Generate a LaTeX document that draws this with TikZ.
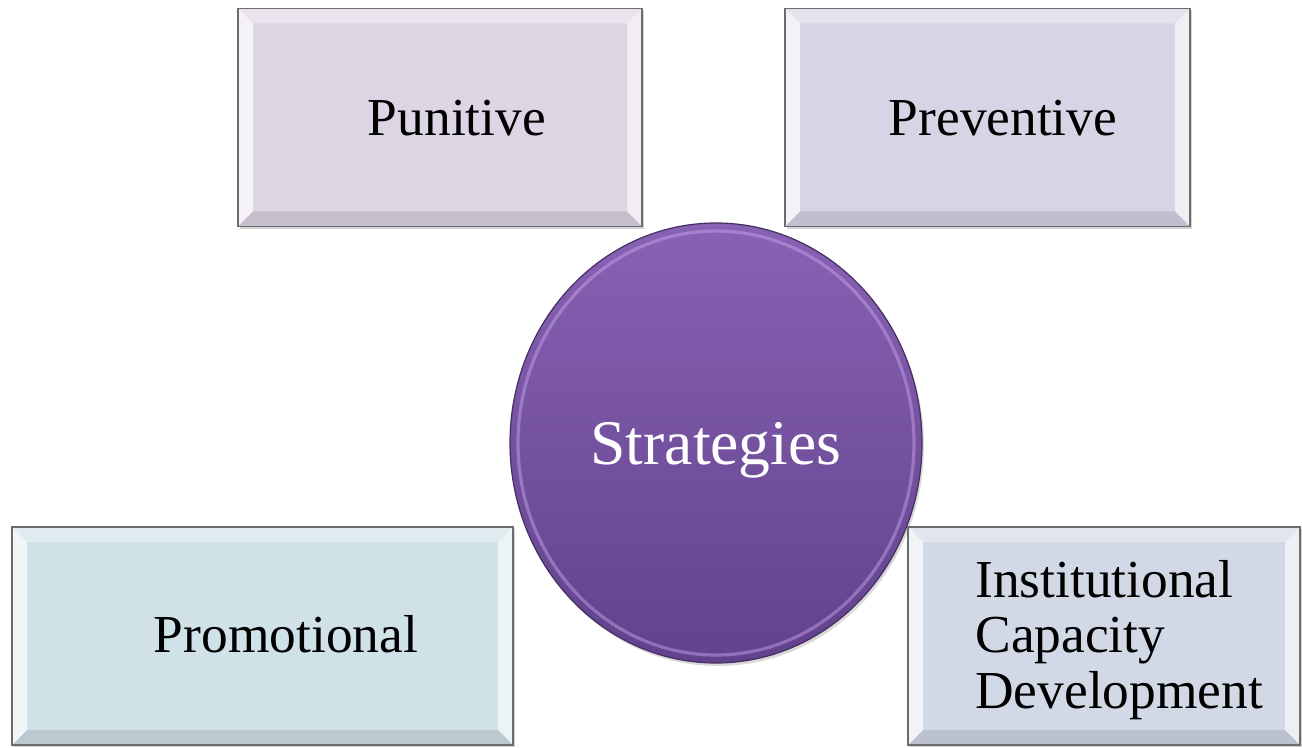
\documentclass[tikz,border=0pt]{standalone}
\usepackage{fontspec}
\setmainfont{Liberation Serif}
\usetikzlibrary{shapes.geometric}
\usetikzlibrary{shadows}

\definecolor{punitivefill}{HTML}{DCD5E3}
\definecolor{preventivefill}{HTML}{D6D5E6}
\definecolor{promotionalfill}{HTML}{D0E1E8}
\definecolor{capacityfill}{HTML}{D1D8E6}
\definecolor{hubtop}{HTML}{8862B4}
\definecolor{hubbottom}{HTML}{62428C}
\definecolor{hubring}{HTML}{C9A8F0}

\tikzset{
  bevel/.style={path picture={
    \coordinate (nw) at (path picture bounding box.north west);
    \coordinate (ne) at (path picture bounding box.north east);
    \coordinate (sw) at (path picture bounding box.south west);
    \coordinate (se) at (path picture bounding box.south east);
    \fill[white,opacity=.35] (nw) -- (ne) -- ([shift={(-7.5pt,-7.5pt)}]ne) -- ([shift={(7.5pt,-7.5pt)}]nw) -- cycle;
    \fill[white,opacity=.7] (nw) -- ([shift={(7.5pt,-7.5pt)}]nw) -- ([shift={(7.5pt,7.5pt)}]sw) -- (sw) -- cycle;
    \fill[white,opacity=.6] (ne) -- ([shift={(-7.5pt,-7.5pt)}]ne) -- ([shift={(-7.5pt,7.5pt)}]se) -- (se) -- cycle;
    \fill[black,opacity=.1] (sw) -- ([shift={(7.5pt,7.5pt)}]sw) -- ([shift={(-7.5pt,7.5pt)}]se) -- (se) -- cycle;
  }},
  stratbox/.style={rectangle, draw=gray!85!black, line width=.8pt, fill=#1,
    minimum height=109pt, bevel,
    drop shadow={shadow xshift=1.2pt, shadow yshift=-1.2pt, opacity=.35}},
  hub/.style={ellipse, draw=hubbottom!70!black, line width=.6pt,
    top color=hubtop, bottom color=hubbottom,
    minimum width=206pt, minimum height=220pt, inner sep=0pt,
    drop shadow={shadow xshift=1pt, shadow yshift=-1.5pt, opacity=.3}},
  lbl/.style={anchor=base, inner sep=0pt, font=\fontsize{26.7}{27.75}\selectfont},
}

\begin{document}
\begin{tikzpicture}[x=0.5pt,y=-0.5pt]
\useasboundingbox (0,0) rectangle (1302,748);

% centre
\node[hub] (strategies) at (716,443) {};
\draw[hubring, line width=1.6pt, opacity=.45] (716,443) ellipse [x radius=99pt, y radius=106pt];
\node[lbl, white, font=\fontsize{31.8}{34}\selectfont] (strategiestxt) at (716,465) {Strategies};

% the four kinds
\node[stratbox=punitivefill, minimum width=202pt] (punitive) at (440,117.5) {};
\node[stratbox=preventivefill, minimum width=202.5pt] (preventive) at (987.5,117.5) {};
\node[stratbox=promotionalfill, minimum width=250.5pt] (promotional) at (262.5,636) {};
\node[stratbox=capacityfill, minimum width=196pt] (capacity) at (1104,636) {};

\node[lbl] (punitivetxt) at (457,136) {Punitive};
\node[lbl] (preventivetxt) at (1003,136) {Preventive};
\node[lbl] (promotionaltxt) at (286,653) {Promotional};
% base of a multi-line node is its last line
\node[lbl, anchor=base west, align=left] (capacitytxt) at (975,708) {Institutional\\Capacity\\Development};
\end{tikzpicture}
\end{document}
